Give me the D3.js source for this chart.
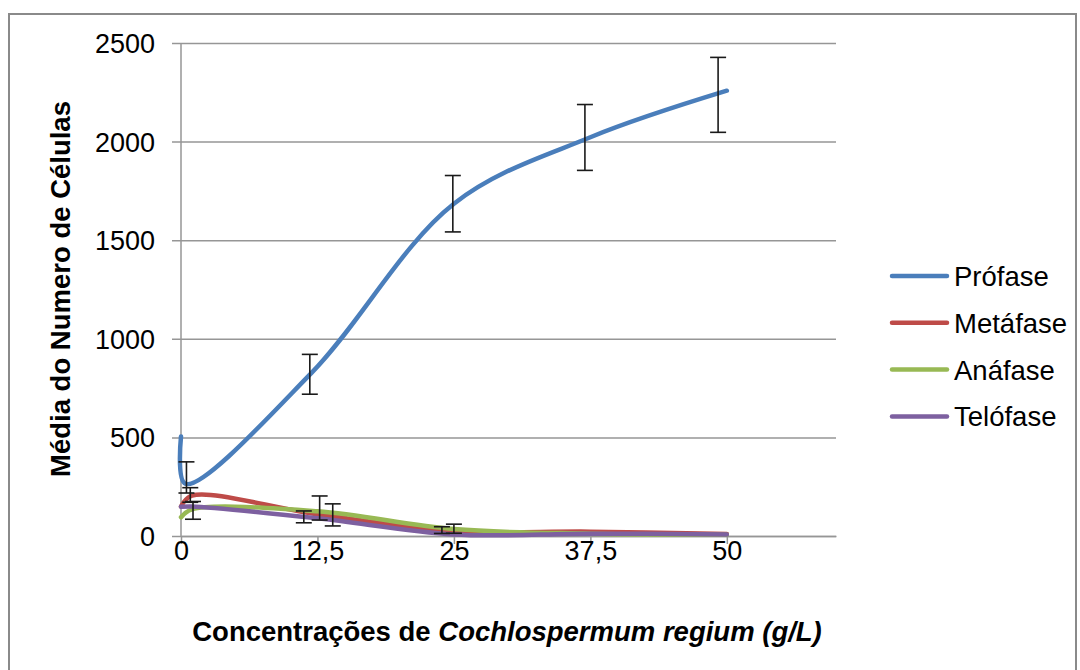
<!DOCTYPE html>
<html>
<head>
<meta charset="utf-8">
<script src="https://cdn.jsdelivr.net/npm/d3@7"></script>
<style>
  body { margin: 0; background: #fff; }
  text { font-family: "Liberation Sans", Arial, sans-serif; fill: #000; }
</style>
</head>
<body>
<svg id="chart" width="1080" height="670"></svg>
<script>
// values
var seriesNames = ["Prófase", "Metáfase", "Anáfase", "Telófase"];
var seriesColors = ["#4a7ebb", "#be4b48", "#98b954", "#7d60a0"];

var xProfase = [0, 0.4, 12, 25, 37.5, 50];
var xFases = [0, 1, 12.5, 25, 37.5, 50];

var profase = [505, 265, 830, 1685, 2022, 2258];
var metafase = [150, 205, 110, 25, 22, 10];
var anafase = [95, 135, 125, 35, 12, 6];
var telofase = [148, 150, 90, 8, 12, 8];

// error bars: [x, centre, half height]
var errProfase = [[0.5, 297, 79], [11.8, 820, 101], [24.9, 1685, 143], [37, 2021, 167], [49.2, 2237, 190]];
var errMetafase = [[0.85, 208, 37], [12.7, 142, 61], [25, 37, 23]];
var errAnafase = [[1.1, 130, 45], [13.9, 107, 56]];
var errTelofase = [[11.25, 97, 30], [23.9, 30, 17]];

var xTicks = [0, 12.5, 25, 37.5, 50];
var yTicks = [0, 500, 1000, 1500, 2000, 2500];

var svg = d3.select("#chart");

// outer chart frame
svg.append("rect")
  .attr("x", 9).attr("y", 14)
  .attr("width", 1067).attr("height", 680)
  .attr("fill", "none")
  .attr("stroke", "#8a8a8a")
  .attr("stroke-width", 2);

var x = d3.scaleLinear().domain([0, 60]).range([181, 836]);
var y = d3.scaleLinear().domain([0, 2500]).range([536, 43]);

// horizontal gridlines + y labels
var yAxis = svg.append("g")
  .attr("transform", "translate(172,0)")
  .call(d3.axisLeft(y).tickValues(yTicks).tickSize(-(836 - 172)).tickPadding(17)
    .tickFormat(d3.format("d")));
yAxis.select(".domain").remove();
yAxis.selectAll("line").attr("stroke", "#969696").attr("stroke-width", 1.5);
yAxis.selectAll("text").attr("font-size", 27).attr("dy", "0.35em");

// x axis
var xAxis = svg.append("g")
  .attr("transform", "translate(0,536)")
  .call(d3.axisBottom(x).tickValues(xTicks).tickSize(8).tickSizeOuter(0)
    .tickFormat(function(d) { return String(d).replace(".", ","); }));
xAxis.select(".domain").attr("stroke", "#969696").attr("stroke-width", 1.5);
xAxis.selectAll("line").attr("stroke", "#969696").attr("stroke-width", 1.5);
xAxis.selectAll("text").attr("font-size", 27).attr("y", 24).attr("dy", 0);

// y axis line
svg.append("line")
  .attr("x1", 181).attr("x2", 181)
  .attr("y1", y(2500)).attr("y2", y(0))
  .attr("stroke", "#969696").attr("stroke-width", 1.5);

var series = [
  { name: seriesNames[0], xs: xProfase, ys: profase, err: errProfase },
  { name: seriesNames[1], xs: xFases, ys: metafase, err: errMetafase },
  { name: seriesNames[2], xs: xFases, ys: anafase, err: errAnafase },
  { name: seriesNames[3], xs: xFases, ys: telofase, err: errTelofase }
];

var line = d3.line()
  .x(function(d) { return x(d[0]); })
  .y(function(d) { return y(d[1]); })
  .curve(d3.curveCatmullRom.alpha(0.5));

series.forEach(function(s, i) {
  var pts = s.xs.map(function(v, j) { return [v, s.ys[j]]; });
  svg.append("path")
    .datum(pts)
    .attr("d", line)
    .attr("fill", "none")
    .attr("stroke", seriesColors[i])
    .attr("stroke-width", 4.5)
    .attr("stroke-linecap", "round")
    .attr("stroke-linejoin", "round");
});

// error bars on top
series.forEach(function(s) {
  var g = svg.append("g").attr("stroke", "#1a1a1a").attr("stroke-width", 1.6);
  s.err.forEach(function(e) {
    var cx = x(e[0]), top = y(e[1] + e[2]), bot = y(e[1] - e[2]);
    g.append("line").attr("x1", cx).attr("x2", cx).attr("y1", top).attr("y2", bot);
    g.append("line").attr("x1", cx - 8).attr("x2", cx + 8).attr("y1", top).attr("y2", top);
    g.append("line").attr("x1", cx - 8).attr("x2", cx + 8).attr("y1", bot).attr("y2", bot);
  });
});

// axis titles
svg.append("text")
  .attr("x", 507).attr("y", 641)
  .attr("text-anchor", "middle")
  .attr("font-size", 27.5)
  .attr("font-weight", "bold")
  .call(function(t) {
    t.append("tspan").text("Concentrações de ");
    t.append("tspan").attr("font-style", "italic").text("Cochlospermum regium (g/L)");
  });

svg.append("text")
  .attr("transform", "translate(70,289) rotate(-90)")
  .attr("text-anchor", "middle")
  .attr("font-size", 27.5)
  .attr("font-weight", "bold")
  .text("Média do Numero de Células");

// legend
var legend = svg.append("g");
seriesNames.forEach(function(name, i) {
  var ly = 276 + i * 46.8;
  legend.append("line")
    .attr("x1", 892).attr("x2", 947)
    .attr("y1", ly).attr("y2", ly)
    .attr("stroke", seriesColors[i])
    .attr("stroke-width", 4.5)
    .attr("stroke-linecap", "round");
  legend.append("text")
    .attr("x", 954).attr("y", ly + 10)
    .attr("font-size", 27.5)
    .text(name);
});
</script>
</body>
</html>
